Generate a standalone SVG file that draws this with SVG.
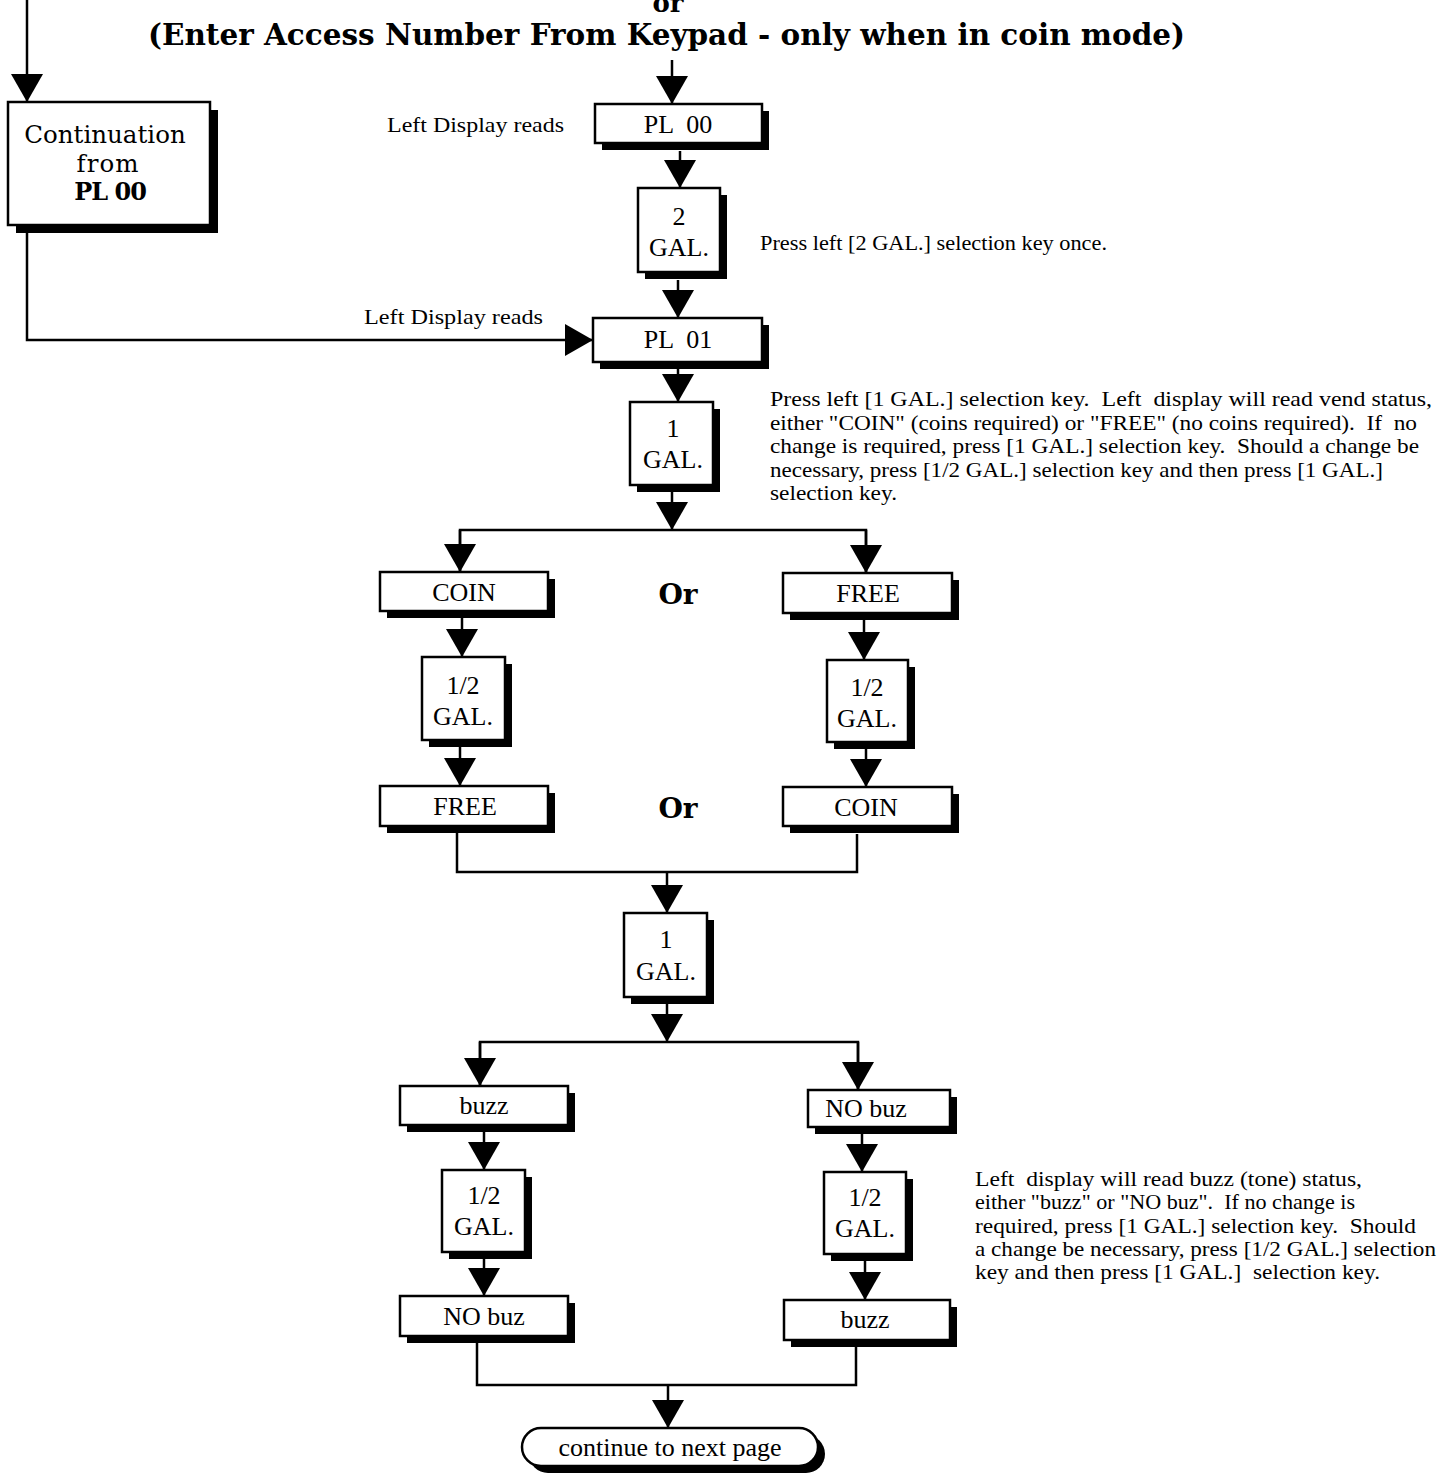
<svg xmlns="http://www.w3.org/2000/svg" width="1439" height="1476" viewBox="0 0 1439 1476">
<style>
.bx{fill:#fff;stroke:#000;stroke-width:2.5}
.sh{fill:#000}
.lbl{font-family:"Liberation Serif",serif;font-size:26px;text-anchor:middle;fill:#000}
.ann{font-family:"Liberation Serif",serif;font-size:22px;fill:#000}
.hd{font-family:"DejaVu Serif",serif;font-weight:bold;fill:#000}
.cn{fill:none;stroke:#000;stroke-width:2.5}
.ar{fill:none;stroke:#000;stroke-width:2.5;marker-end:url(#ah)}
</style>
<defs>
<marker id="ah" markerUnits="userSpaceOnUse" viewBox="0 0 28 32" markerWidth="28" markerHeight="32" refX="28" refY="16" orient="auto">
<path d="M0,0 L28,16 L0,32 Z" fill="#000"/>
</marker>
</defs>
<rect width="1439" height="1476" fill="#fff"/>

<g id="header">
<text class="hd" x="668" y="12" font-size="26" text-anchor="middle">or</text>
<text class="hd" x="148" y="45" font-size="30" textLength="1037" lengthAdjust="spacingAndGlyphs">(Enter Access Number From Keypad - only when in coin mode)</text>
</g>

<g id="connectors">
<path class="ar" d="M27,0 V102"/>
<path class="ar" d="M27,233 V340 H593"/>
<path class="ar" d="M672,60 V104"/>
<path class="ar" d="M680,151 V188"/>
<path class="ar" d="M678,280 V318"/>
<path class="ar" d="M678,369 V402"/>
<path class="ar" d="M672,492 V530"/>
<path class="cn" d="M460,572 V530 H866 V574"/>
<path class="ar" d="M460,530 V572"/>
<path class="ar" d="M866,530 V573"/>
<path class="ar" d="M462,618 V657"/>
<path class="ar" d="M864,620 V660"/>
<path class="ar" d="M460,747 V786"/>
<path class="ar" d="M866,749 V787"/>
<path class="cn" d="M457,833 V872 H857 V834"/>
<path class="ar" d="M667,872 V913"/>
<path class="ar" d="M667,1004 V1042"/>
<path class="cn" d="M480,1086 V1042 H858 V1090"/>
<path class="ar" d="M480,1042 V1086"/>
<path class="ar" d="M858,1042 V1090"/>
<path class="ar" d="M484,1132 V1170"/>
<path class="ar" d="M862,1134 V1172"/>
<path class="ar" d="M484,1259 V1296"/>
<path class="ar" d="M865,1261 V1300"/>
<path class="cn" d="M477,1343 V1385 H856 V1347"/>
<path class="ar" d="M668,1385 V1428"/>
</g>

<g id="cont">
<rect class="sh" x="16" y="110" width="202" height="123"/>
<rect class="bx" x="8" y="102" width="202" height="123"/>
<text x="105" y="143" font-family="DejaVu Serif, serif" font-size="24.5" text-anchor="middle">Continuation</text>
<text x="108" y="172" font-family="DejaVu Serif, serif" font-size="24.5" text-anchor="middle" letter-spacing="1">from</text>
<text x="110" y="200" font-family="DejaVu Serif, serif" font-size="24" font-weight="bold" text-anchor="middle" letter-spacing="-1">PL 00</text>
</g>

<g id="pl00">
<rect class="sh" x="602" y="111" width="167" height="39"/>
<rect class="bx" x="595" y="104" width="167" height="39"/>
<text class="lbl" x="678" y="133" xml:space="preserve">PL  00</text>
</g>
<text class="ann" x="387" y="132" textLength="177" lengthAdjust="spacingAndGlyphs">Left Display reads</text>

<g id="gal2">
<rect class="sh" x="645" y="195" width="82" height="84"/>
<rect class="bx" x="638" y="188" width="82" height="84"/>
<text class="lbl" x="679" y="225">2</text>
<text class="lbl" x="679" y="256">GAL.</text>
</g>
<text class="ann" x="760" y="250" textLength="347" lengthAdjust="spacingAndGlyphs">Press left [2 GAL.] selection key once.</text>

<g id="pl01">
<rect class="sh" x="600" y="325" width="169" height="44"/>
<rect class="bx" x="593" y="318" width="169" height="44"/>
<text class="lbl" x="678" y="348" xml:space="preserve">PL  01</text>
</g>
<text class="ann" x="364" y="324" textLength="179" lengthAdjust="spacingAndGlyphs">Left Display reads</text>

<g id="gal1a">
<rect class="sh" x="637" y="409" width="83" height="83"/>
<rect class="bx" x="630" y="402" width="83" height="83"/>
<text class="lbl" x="673" y="437">1</text>
<text class="lbl" x="673" y="468">GAL.</text>
</g>
<g id="note1">
<text class="ann" x="770" y="406" textLength="662" lengthAdjust="spacingAndGlyphs" xml:space="preserve">Press left [1 GAL.] selection key.  Left  display will read vend status,</text>
<text class="ann" x="770" y="430" textLength="647" lengthAdjust="spacingAndGlyphs" xml:space="preserve">either "COIN" (coins required) or "FREE" (no coins required).  If  no</text>
<text class="ann" x="770" y="453" textLength="649" lengthAdjust="spacingAndGlyphs" xml:space="preserve">change is required, press [1 GAL.] selection key.  Should a change be</text>
<text class="ann" x="770" y="477" textLength="613" lengthAdjust="spacingAndGlyphs">necessary, press [1/2 GAL.] selection key and then press [1 GAL.]</text>
<text class="ann" x="770" y="500" textLength="127" lengthAdjust="spacingAndGlyphs">selection key.</text>
</g>

<g id="coin1">
<rect class="sh" x="387" y="579" width="168" height="39"/>
<rect class="bx" x="380" y="572" width="168" height="39"/>
<text class="lbl" x="464" y="601">COIN</text>
</g>
<text class="hd" x="678" y="604" font-size="28" text-anchor="middle">Or</text>
<g id="free1">
<rect class="sh" x="790" y="580" width="169" height="40"/>
<rect class="bx" x="783" y="573" width="169" height="40"/>
<text class="lbl" x="868" y="602">FREE</text>
</g>

<g id="half1">
<rect class="sh" x="429" y="664" width="83" height="83"/>
<rect class="bx" x="422" y="657" width="83" height="83"/>
<text class="lbl" x="463" y="694">1/2</text>
<text class="lbl" x="463" y="725">GAL.</text>
</g>
<g id="half2">
<rect class="sh" x="834" y="667" width="81" height="82"/>
<rect class="bx" x="827" y="660" width="81" height="82"/>
<text class="lbl" x="867" y="696">1/2</text>
<text class="lbl" x="867" y="727">GAL.</text>
</g>

<g id="free2">
<rect class="sh" x="387" y="793" width="168" height="40"/>
<rect class="bx" x="380" y="786" width="168" height="40"/>
<text class="lbl" x="465" y="815">FREE</text>
</g>
<text class="hd" x="678" y="818" font-size="28" text-anchor="middle">Or</text>
<g id="coin2">
<rect class="sh" x="790" y="794" width="169" height="39"/>
<rect class="bx" x="783" y="787" width="169" height="39"/>
<text class="lbl" x="866" y="816">COIN</text>
</g>

<g id="gal1b">
<rect class="sh" x="631" y="920" width="83" height="84"/>
<rect class="bx" x="624" y="913" width="83" height="84"/>
<text class="lbl" x="666" y="948">1</text>
<text class="lbl" x="666" y="980">GAL.</text>
</g>

<g id="buzz1">
<rect class="sh" x="407" y="1093" width="168" height="39"/>
<rect class="bx" x="400" y="1086" width="168" height="39"/>
<text class="lbl" x="484" y="1114">buzz</text>
</g>
<g id="nobuz1">
<rect class="sh" x="815" y="1097" width="142" height="37"/>
<rect class="bx" x="808" y="1090" width="142" height="37"/>
<text class="lbl" x="866" y="1117">NO buz</text>
</g>

<g id="half3">
<rect class="sh" x="449" y="1177" width="83" height="82"/>
<rect class="bx" x="442" y="1170" width="83" height="82"/>
<text class="lbl" x="484" y="1204">1/2</text>
<text class="lbl" x="484" y="1235">GAL.</text>
</g>
<g id="half4">
<rect class="sh" x="831" y="1179" width="82" height="82"/>
<rect class="bx" x="824" y="1172" width="82" height="82"/>
<text class="lbl" x="865" y="1206">1/2</text>
<text class="lbl" x="865" y="1237">GAL.</text>
</g>
<g id="note2">
<text class="ann" x="975" y="1186" textLength="387" lengthAdjust="spacingAndGlyphs" xml:space="preserve">Left  display will read buzz (tone) status,</text>
<text class="ann" x="975" y="1209" textLength="380" lengthAdjust="spacingAndGlyphs" xml:space="preserve">either "buzz" or "NO buz".  If no change is</text>
<text class="ann" x="975" y="1233" textLength="441" lengthAdjust="spacingAndGlyphs" xml:space="preserve">required, press [1 GAL.] selection key.  Should</text>
<text class="ann" x="975" y="1256" textLength="461" lengthAdjust="spacingAndGlyphs">a change be necessary, press [1/2 GAL.] selection</text>
<text class="ann" x="975" y="1279" textLength="405" lengthAdjust="spacingAndGlyphs" xml:space="preserve">key and then press [1 GAL.]  selection key.</text>
</g>

<g id="nobuz2">
<rect class="sh" x="407" y="1303" width="168" height="40"/>
<rect class="bx" x="400" y="1296" width="168" height="40"/>
<text class="lbl" x="484" y="1325">NO buz</text>
</g>
<g id="buzz2">
<rect class="sh" x="791" y="1307" width="166" height="40"/>
<rect class="bx" x="784" y="1300" width="166" height="40"/>
<text class="lbl" x="865" y="1328">buzz</text>
</g>

<g id="cont2">
<rect class="sh" x="529" y="1435" width="296" height="38" rx="19"/>
<rect class="bx" x="522" y="1428" width="296" height="38" rx="19"/>
<text class="lbl" x="670" y="1456" font-size="25">continue to next page</text>
</g>
</svg>
